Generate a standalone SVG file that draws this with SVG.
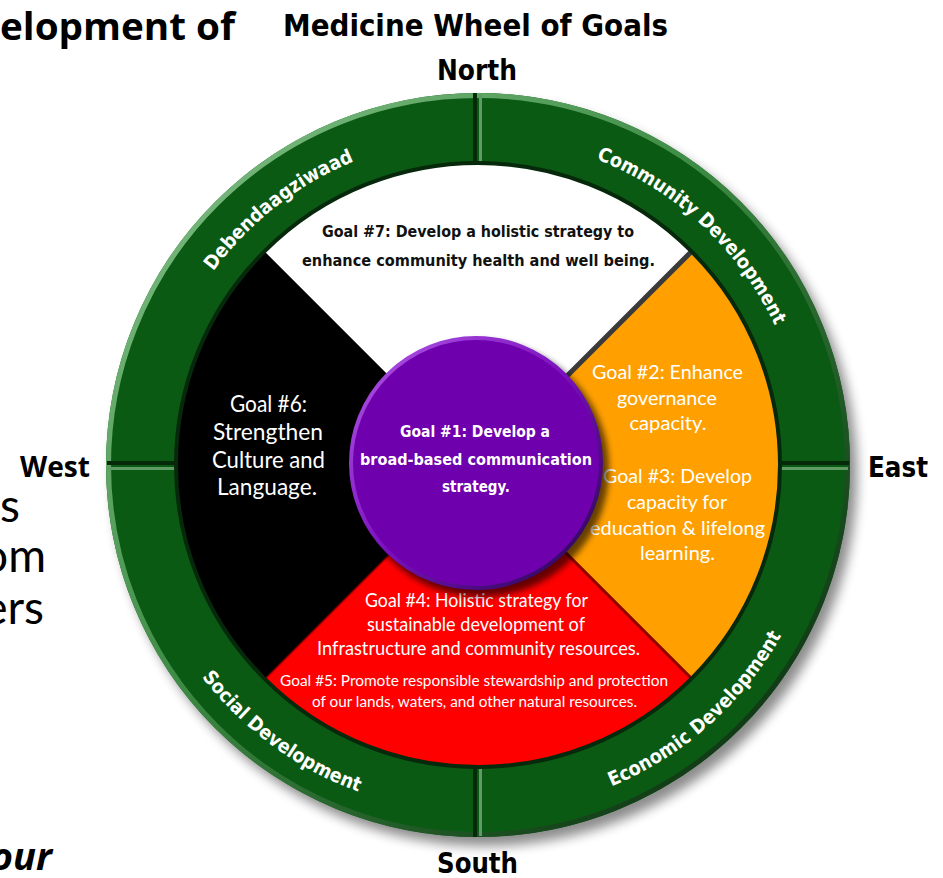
<svg xmlns="http://www.w3.org/2000/svg" width="943" height="878" viewBox="0 0 943 878">
<defs>
  <filter id="blur6" x="-20%" y="-20%" width="140%" height="140%"><feGaussianBlur stdDeviation="6"/></filter>
  <filter id="blur3" x="-20%" y="-20%" width="140%" height="140%"><feGaussianBlur stdDeviation="3"/></filter>
  <linearGradient id="rimG" x1="0" y1="0" x2="1" y2="1">
    <stop offset="0" stop-color="#8cc891"/>
    <stop offset="0.45" stop-color="#3c8a43"/>
    <stop offset="1" stop-color="#011f06"/>
  </linearGradient>
  <linearGradient id="rimP" x1="0" y1="0" x2="1" y2="1">
    <stop offset="0" stop-color="#b35ae8"/>
    <stop offset="0.5" stop-color="#7a10bd"/>
    <stop offset="1" stop-color="#1e0848"/>
  </linearGradient>
  <path id="arcDeb" d="M157.2,396.8 A328,328 0 0 1 489.4,137.2"/>
  <path id="arcCom" d="M495.2,137.5 A328,328 0 0 1 803.5,425.0"/>
  <path id="arcSoc" d="M139.9,547.4 A348,348 0 0 0 500.4,812.3"/>
  <path id="arcEco" d="M487.7,812.9 A348,348 0 0 0 822.3,515.8"/>
</defs>
<style>
  .ring{font-family:"DejaVu Sans Condensed","DejaVu Sans",sans-serif;font-weight:bold;font-size:19.5px;fill:#fff}
  .hd{font-family:"DejaVu Sans Condensed","DejaVu Sans",sans-serif;font-weight:bold;fill:#000}
  .cal{font-family:Lato,"Liberation Sans",sans-serif}
  .calb{font-family:"Open Sans","Liberation Sans",sans-serif;font-weight:bold}
  .tah{font-family:"DejaVu Sans Condensed","DejaVu Sans",sans-serif;font-weight:bold;font-size:16px}
  .w{fill:#fff}
  .divd{stroke:#042a09;stroke-width:4}
  .divl{stroke:#5e9c63;stroke-width:3}
</style>

<g id="page-text">
  <text class="calb" x="235" y="40" text-anchor="end" font-size="38" textLength="235" lengthAdjust="spacingAndGlyphs">elopment of</text>
  <text class="cal" x="20" y="522" text-anchor="end" font-size="46">s</text>
  <text class="cal" x="46" y="572" text-anchor="end" font-size="46">om</text>
  <text class="cal" x="44" y="624" text-anchor="end" font-size="46">ers</text>
  <text class="calb" x="52" y="870" text-anchor="end" font-size="38" font-style="italic">our</text>
</g>

<g id="title">
  <text class="hd" x="475.5" y="36" text-anchor="middle" font-size="31" textLength="385" lengthAdjust="spacingAndGlyphs">Medicine Wheel of Goals</text>
  <text class="hd" x="477" y="80" text-anchor="middle" font-size="28" textLength="80" lengthAdjust="spacingAndGlyphs">North</text>
  <text class="hd" x="477.5" y="873" text-anchor="middle" font-size="28" textLength="81" lengthAdjust="spacingAndGlyphs">South</text>
  <text class="hd" x="898" y="477" text-anchor="middle" font-size="28" textLength="60" lengthAdjust="spacingAndGlyphs">East</text>
  <text class="calb" x="55" y="477" text-anchor="middle" font-size="28" textLength="70" lengthAdjust="spacingAndGlyphs">West</text>
</g>

<g id="ring">
  <circle cx="485" cy="474" r="372" fill="#000" opacity="0.45" filter="url(#blur6)"/>
  <path fill="#0b5a14" fill-rule="evenodd" d="M106,465 a372,372 0 1,0 744,0 a372,372 0 1,0 -744,0 Z M176,465 a302,302 0 1,0 604,0 a302,302 0 1,0 -604,0 Z"/>
  <circle cx="478" cy="465" r="369.5" fill="none" stroke="url(#rimG)" stroke-width="5"/>
  <text class="ring"><textPath href="#arcDeb" startOffset="50%" text-anchor="middle">Debendaagziwaad</textPath></text>
  <text class="ring"><textPath href="#arcCom" startOffset="50%" text-anchor="middle">Community Development</textPath></text>
  <text class="ring"><textPath href="#arcSoc" startOffset="50%" text-anchor="middle">Social Development</textPath></text>
  <text class="ring"><textPath href="#arcEco" startOffset="50%" text-anchor="middle">Economic Development</textPath></text>
</g>

<g id="dividers">
  <line class="divd" x1="475" y1="93" x2="475" y2="164"/>
  <line class="divl" x1="480.5" y1="94" x2="480.5" y2="164"/>
  <line class="divd" x1="475" y1="766" x2="475" y2="837"/>
  <line class="divl" x1="480.5" y1="766" x2="480.5" y2="836"/>
  <line class="divd" x1="107" y1="463" x2="177" y2="463"/>
  <line class="divl" x1="108" y1="468.5" x2="177" y2="468.5"/>
  <line class="divd" x1="779" y1="463" x2="849" y2="463"/>
  <line class="divl" x1="779" y1="468.5" x2="848" y2="468.5"/>
</g>

<g id="sector-north">
  <path d="M478,465 L264.5,251.5 A302,302 0 0 1 691.5,251.5 Z" fill="#fff"/>
  <text class="tah" x="478" y="237" text-anchor="middle" fill="#111" textLength="312" lengthAdjust="spacingAndGlyphs">Goal #7: Develop a holistic strategy to</text>
  <text class="tah" x="478.5" y="266" text-anchor="middle" fill="#111" textLength="353" lengthAdjust="spacingAndGlyphs">enhance community health and well being.</text>
</g>

<g id="sector-east">
  <path d="M478,465 L691.5,251.5 A302,302 0 0 1 691.5,678.5 Z" fill="#ffa000" stroke="#7a4a00" stroke-width="2"/>
  <line x1="478" y1="465" x2="691.5" y2="251.5" stroke="#3a3a3a" stroke-width="5"/>
  <g class="cal w" font-size="19.5" text-anchor="middle">
    <text x="667.5" y="379" textLength="151" lengthAdjust="spacingAndGlyphs">Goal #2: Enhance</text>
    <text x="667" y="405" textLength="100" lengthAdjust="spacingAndGlyphs">governance</text>
    <text x="668" y="430" textLength="77" lengthAdjust="spacingAndGlyphs">capacity.</text>
    <text x="677.5" y="483" textLength="149" lengthAdjust="spacingAndGlyphs">Goal #3: Develop</text>
    <text x="677" y="509" textLength="100" lengthAdjust="spacingAndGlyphs">capacity for</text>
    <text x="677.5" y="535" textLength="175" lengthAdjust="spacingAndGlyphs">education &amp; lifelong</text>
    <text x="677.5" y="560" textLength="75" lengthAdjust="spacingAndGlyphs">learning.</text>
  </g>
</g>

<g id="sector-south">
  <path d="M478,465 L691.5,678.5 A302,302 0 0 1 264.5,678.5 Z" fill="#ff0000" stroke="#8e0000" stroke-width="3"/>
  <g class="cal w" text-anchor="middle">
    <text x="476.5" y="607" font-size="19" textLength="223" lengthAdjust="spacingAndGlyphs">Goal #4: Holistic strategy for</text>
    <text x="476" y="631" font-size="19" textLength="218" lengthAdjust="spacingAndGlyphs">sustainable development of</text>
    <text x="478.5" y="655" font-size="19" textLength="323" lengthAdjust="spacingAndGlyphs">Infrastructure and community resources.</text>
    <text x="474" y="686" font-size="15.5" textLength="388" lengthAdjust="spacingAndGlyphs">Goal #5: Promote responsible stewardship and protection</text>
    <text x="474.5" y="707" font-size="15.5" textLength="325" lengthAdjust="spacingAndGlyphs">of our lands, waters, and other natural resources.</text>
  </g>
</g>

<g id="sector-west">
  <path d="M478,465 L264.5,678.5 A302,302 0 0 1 264.5,251.5 Z" fill="#000"/>
  <g class="cal w" font-size="23" text-anchor="middle">
    <text x="268.5" y="412" textLength="77" lengthAdjust="spacingAndGlyphs">Goal #6:</text>
    <text x="268" y="440" textLength="110" lengthAdjust="spacingAndGlyphs">Strengthen</text>
    <text x="268.5" y="468" textLength="113" lengthAdjust="spacingAndGlyphs">Culture and</text>
    <text x="267" y="495" textLength="100" lengthAdjust="spacingAndGlyphs">Language.</text>
  </g>
</g>

<circle cx="478" cy="465" r="302" fill="none" stroke="#06280b" stroke-width="4"/>

<g id="center">
  <circle cx="481" cy="469" r="128" fill="#000" opacity="0.6" filter="url(#blur3)"/>
  <circle cx="476" cy="463" r="125" fill="#6f00ae" stroke="url(#rimP)" stroke-width="4"/>
  <g class="tah w" text-anchor="middle">
    <text x="475" y="437" textLength="150" lengthAdjust="spacingAndGlyphs">Goal #1: Develop a</text>
    <text x="476" y="465" textLength="232" lengthAdjust="spacingAndGlyphs">broad-based communication</text>
    <text x="476" y="492" textLength="68" lengthAdjust="spacingAndGlyphs">strategy.</text>
  </g>
</g>
</svg>
